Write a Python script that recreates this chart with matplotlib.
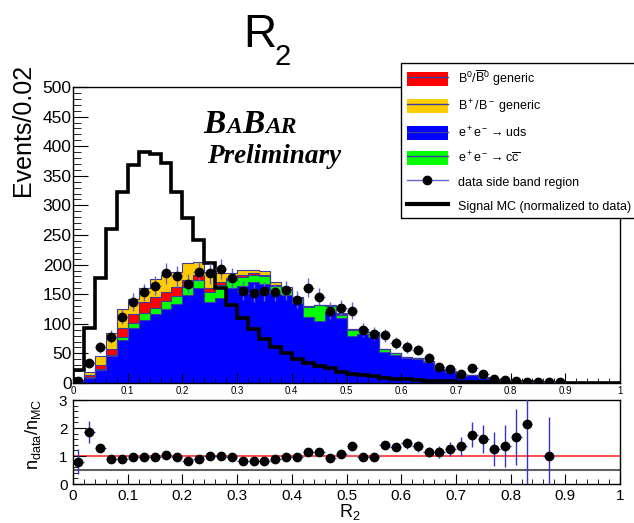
import matplotlib

matplotlib.use("Agg")
import matplotlib.pyplot as plt
import numpy as np
from matplotlib.lines import Line2D
from matplotlib.patches import Patch
from matplotlib.ticker import FuncFormatter, MultipleLocator

plt.rcParams["font.family"] = ["Liberation Sans", "DejaVu Sans"]
plt.rcParams["mathtext.fontset"] = "custom"
plt.rcParams["mathtext.rm"] = "Liberation Sans"
plt.rcParams["mathtext.it"] = "Liberation Sans:italic"
plt.rcParams["mathtext.bf"] = "Liberation Sans:bold"

# 50 bins of width 0.02 in R2
bin_edges = np.linspace(0.0, 1.0, 51)
bin_centers = 0.5 * (bin_edges[:-1] + bin_edges[1:])

# stacked MC components (events / 0.02)
uds = [3, 9, 22, 45, 72, 93, 107, 117, 125, 133,
       148, 160, 137, 143, 160, 164, 170, 168, 150, 148,
       135, 112, 104, 120, 110, 80, 82, 78, 52, 47,
       42, 41, 36, 23, 19, 12, 13, 9, 6, 4,
       2.5, 1, 0, 1, 0, 0, 0, 0, 0, 0]
ccbar = [0.5, 1, 2, 3, 5, 9, 12, 10, 13, 14,
         14, 14, 16, 22, 14, 15, 12, 12, 14, 10,
         9, 17, 28, 10, 5, 10, 9, 8, 6, 4,
         2, 1, 1, 1, 1, 0, 1, 1, 0, 0,
         0, 0, 0, 0, 0, 0, 0, 0, 0, 0]
b0 = [0.5, 3, 6, 10, 16, 14, 17, 18, 16, 16,
      12, 8, 8, 5, 4, 3, 3, 2, 2, 1,
      1, 0.5, 0, 1, 1, 0.5, 0.5, 0, 0, 0,
      0, 0, 0, 0, 0, 0, 0, 0, 0, 0,
      0, 0, 0, 0, 0, 0, 0, 0, 0, 0]
bch = [1, 5, 16, 27, 32, 26, 24, 30, 28, 25,
       29, 22, 27, 15, 8, 9, 6, 7, 4, 3,
       1, 0.5, 0, 1, 2, 0.5, 0.5, 0, 0, 0,
       0, 0, 0, 0, 0, 0, 0, 0, 0, 0,
       0, 0, 0, 0, 0, 0, 0, 0, 0, 0]

# signal MC normalised to data
signal = [22, 93, 177, 260, 323, 368, 390, 386, 372, 323,
          279, 241, 203, 161, 132, 109, 92, 75, 61, 50,
          40, 34, 29, 25, 19, 15, 13, 11, 9, 7,
          6, 5, 4, 3.5, 3, 2.5, 2, 2, 1.5, 1.5,
          1, 1, 0.5, 0.5, 0, 0, 0, 0, 0, 0]

# data side band
nan = np.nan
data = [4, 33, 60, 78, 112, 137, 153, 164, 185, 180,
        168, 187, 185, 192, 178, 156, 152, 155, 153, 157,
        141, 161, 146, 122, 127, 122, 90, 83, 81, 67,
        61, 56, 42, 27, 24, 15, 25, 16, 7, 5,
        4, 2, 2, 1, 1, nan, nan, nan, nan, nan]
data_err = [2.5, 7, 10, 11, 13, 15, 15, 16, 17, 17,
            16, 17, 17, 17, 17, 16, 15, 16, 15, 16,
            15, 16, 15, 14, 14, 14, 12, 11, 11, 10,
            10, 9, 8, 6.5, 6, 5, 6, 5, 3.3, 2.8,
            2.5, 1.8, 1.8, 1.3, 1.3, nan, nan, nan, nan, nan]

# data / MC ratio
ratio = [0.80, 1.85, 1.28, 0.90, 0.90, 0.98, 0.98, 0.95, 1.04, 0.95,
         0.82, 0.90, 1.01, 1.01, 0.97, 0.82, 0.82, 0.82, 0.90, 0.97,
         0.97, 1.16, 1.13, 0.92, 1.08, 1.34, 0.96, 0.96, 1.40, 1.32,
         1.46, 1.34, 1.13, 1.14, 1.25, 1.34, 1.76, 1.62, 1.25, 1.34,
         1.68, 2.15, nan, 1.00, nan, nan, nan, nan, nan, nan]
ratio_err = [0.45, 0.40, 0.15, 0.08, 0.08, 0.08, 0.07, 0.07, 0.07, 0.07,
             0.06, 0.07, 0.07, 0.07, 0.07, 0.06, 0.06, 0.06, 0.07, 0.07,
             0.08, 0.08, 0.08, 0.08, 0.09, 0.10, 0.10, 0.10, 0.15, 0.15,
             0.20, 0.18, 0.18, 0.22, 0.25, 0.35, 0.45, 0.50, 0.60, 0.75,
             1.00, 3.00, nan, 1.40, nan, nan, nan, nan, nan, nan]

C_B0 = "#ff0000"
C_BCH = "#ffcc00"
C_UDS = "#0000ff"
C_CC = "#00ff00"
C_EDGE = "#3c3ca0"
C_ERR = "#6464d2"

fig = plt.figure(figsize=(6.34, 5.23), dpi=100)
W, H = 634.0, 523.0
ax = fig.add_axes([73 / W, 1 - 383 / H, 547 / W, 296 / H])
axr = fig.add_axes([73 / W, 1 - 484 / H, 547 / W, 84 / H])

# stack: uds at bottom, then ccbar, B0, B+/B-
layers = [(uds, C_UDS), (ccbar, C_CC), (b0, C_B0), (bch, C_BCH)]
bottom = np.zeros(50)
for vals, col in layers:
    top = bottom + np.asarray(vals, dtype=float)
    ax.stairs(top, bin_edges, baseline=bottom, fill=True, color=col, lw=0)
    bottom = top
bottom = np.zeros(50)
for vals, col in layers:
    top = bottom + np.asarray(vals, dtype=float)
    ax.stairs(top, bin_edges, color=C_EDGE, lw=0.8)
    bottom = top

ax.stairs(signal, bin_edges, color="black", lw=2.6, zorder=4)
ax.errorbar(bin_centers, data, xerr=0.01, yerr=data_err, fmt="o", color="black",
            ms=6, ecolor=C_ERR, elinewidth=1, capsize=0, zorder=5)

ax.set_xlim(0, 1)
ax.set_ylim(0, 500)
ax.xaxis.set_major_locator(MultipleLocator(0.1))
ax.xaxis.set_minor_locator(MultipleLocator(0.02))
ax.yaxis.set_major_locator(MultipleLocator(50))
ax.yaxis.set_minor_locator(MultipleLocator(10))
fmt = FuncFormatter(lambda v, p: f"{v:g}")
ax.xaxis.set_major_formatter(fmt)
ax.tick_params(axis="both", which="both", direction="in", top=False, right=False)
ax.tick_params(axis="y", which="major", length=11, labelsize=12.5, pad=1)
ax.tick_params(axis="y", which="minor", length=6)
ax.tick_params(axis="x", which="major", length=7, labelsize=7, pad=2)
ax.tick_params(axis="x", which="minor", length=3.5)

# ratio panel
axr.axhline(1.0, color="#ff3030", lw=1.2, zorder=1)
axr.axhline(0.5, color="#606060", lw=1.5, zorder=1)
axr.errorbar(bin_centers, ratio, xerr=0.01, yerr=ratio_err, fmt="o", color="black",
             ms=6, ecolor="#3535c8", elinewidth=1, capsize=0, zorder=3)
axr.set_xlim(0, 1)
axr.set_ylim(0, 3)
axr.xaxis.set_major_locator(MultipleLocator(0.1))
axr.xaxis.set_minor_locator(MultipleLocator(0.02))
axr.yaxis.set_major_locator(MultipleLocator(1))
axr.yaxis.set_minor_locator(MultipleLocator(0.2))
axr.xaxis.set_major_formatter(fmt)
axr.tick_params(axis="both", which="both", direction="in", top=False, right=False)
axr.tick_params(axis="both", which="major", labelsize=11, length=7)
axr.tick_params(axis="y", which="major", length=9, pad=4)
axr.tick_params(axis="both", which="minor", length=3.5)

for a in (ax, axr):
    for s in a.spines.values():
        s.set_linewidth(1.0)

# texts
fig.text(243 / W, 1 - 47 / H, "R", fontsize=33, va="baseline", ha="left")
fig.text(274 / W, 1 - 65 / H, "2", fontsize=21, va="baseline", ha="left")
fig.text(23 / W, 1 - 64 / H, "Events/0.02", rotation=90, ha="center", va="top", fontsize=18)
fig.text(33 / W, 1 - 434 / H, r"n$_{\rm data}$/n$_{\rm MC}$", rotation=90,
         ha="center", va="center", fontsize=13)
fig.text(350 / W, 1 - 517 / H, r"R$_2$", ha="center", va="baseline", fontsize=13)

# BaBar logo: big B, small-cap A, placed one after another
serif = dict(family=["Liberation Serif", "DejaVu Serif"], weight="bold", style="italic",
             va="baseline", ha="left")
renderer = fig.canvas.get_renderer()
x_px = 203.0
for piece, size in [("B", 24), ("A", 17), ("B", 24), ("AR", 17)]:
    t = fig.text(x_px / W, 1 - 133 / H, piece, fontsize=size, **serif)
    x_px = t.get_window_extent(renderer).x1 + 0.5
fig.text(207 / W, 1 - 163 / H, "Preliminary", fontsize=19.5, **serif)

# legend
handles = [
    (Patch(facecolor=C_B0, edgecolor="none"), Line2D([], [], color=C_EDGE, lw=1)),
    (Patch(facecolor=C_BCH, edgecolor="none"), Line2D([], [], color=C_EDGE, lw=1)),
    (Patch(facecolor=C_UDS, edgecolor="none"), Line2D([], [], color=C_EDGE, lw=1)),
    (Patch(facecolor=C_CC, edgecolor="none"), Line2D([], [], color=C_EDGE, lw=1)),
    Line2D([], [], color=C_ERR, lw=1, marker="o", ms=6, mfc="black", mec="black"),
    Line2D([], [], color="black", lw=3),
]
labels = [
    r"B$^0$/$\overline{\rm B}^0$ generic",
    r"B$^+$/B$^-$ generic",
    r"e$^+$e$^-$$\rightarrow$uds",
    r"e$^+$e$^-$$\rightarrow$c$\overline{\rm c}$",
    "data side band region",
    "Signal MC (normalized to data)",
]
leg = fig.legend(handles, labels, loc="upper left", bbox_to_anchor=(401 / W, 1 - 63 / H),
                 borderaxespad=0, fontsize=9, handlelength=3.3, handleheight=1.35,
                 handletextpad=0.8, labelspacing=0.78, borderpad=0.45,
                 frameon=True, fancybox=False, framealpha=1, edgecolor="black")
leg.get_frame().set_linewidth(1.0)

fig.savefig("out.png", dpi=100)
